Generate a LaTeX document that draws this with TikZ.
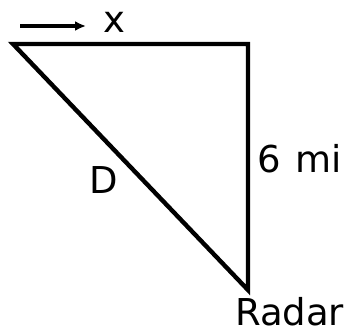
\documentclass[tikz,border=0pt]{standalone}
\usepackage{fontspec}
\setmainfont{DejaVu Sans}
\usetikzlibrary{arrows.meta, positioning}

\begin{document}
\begin{tikzpicture}[
  x=1pt, y=-1pt,
  side/.style={line width=4.4pt, black},
  motion/.style={-{Latex[length=11pt, width=10pt]}, line width=3.2pt, black},
  lbl/.style={anchor=base west, inner sep=0pt, font=\fontsize{37}{42}\selectfont}
]
\useasboundingbox (0,0) rectangle (346,334);

%  : -- Triangle (plane path, distance D, radar below)  : --
\coordinate (plane) at (13,44);
\coordinate (over) at (248,44);
\coordinate (radar) at (248,290);
\draw[side] (plane) -- (over) -- (radar) -- cycle;

%  : -- Motion arrow for x  : --
\coordinate (xfrom) at (20,26);
\coordinate (xto) at (86,26);
\draw[motion] (xfrom) -- (xto);
\node[lbl] (xlbl) at (103,33) {x};

%  : -- Side labels  : --
\node[lbl] (height) at (257,173) {6\hspace{3pt} mi};
\node[lbl] (dist) at (89,194) {D};
\node[lbl] (radarlbl) at (235,326) {Radar};

\end{tikzpicture}
\end{document}
